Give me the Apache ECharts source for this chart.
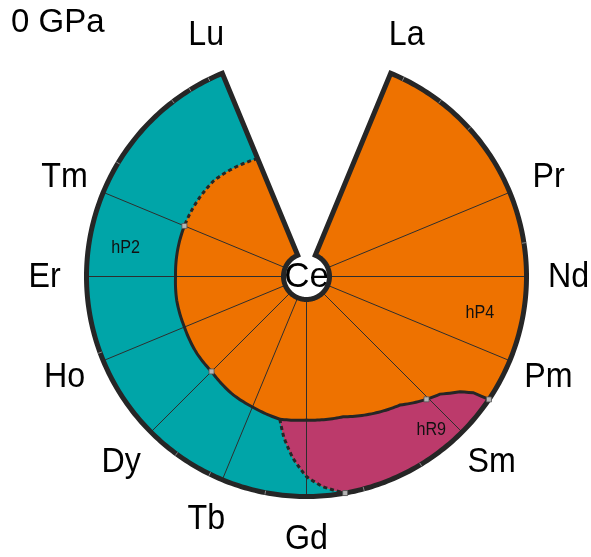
<!DOCTYPE html>
<html>
<head>
<meta charset="utf-8">
<script src="https://cdn.jsdelivr.net/npm/echarts@6/dist/echarts.min.js"></script>
<style>
  html, body { margin: 0; padding: 0; background: #ffffff; }
  #chart { width: 591px; height: 557px; }
</style>
</head>
<body>
<div id="chart"></div>
<script>
// Position along the lanthanide series sets the angle (La = 0 ... Lu = 14),
// the radius is the fraction of the partner element alloyed with Ce.
const elements = ['La', 'Ce', 'Pr', 'Nd', 'Pm', 'Sm', 'Eu', 'Gd', 'Tb', 'Dy', 'Ho', 'Er', 'Tm', 'Yb', 'Lu'];
const rimLabels = ['La', 'Pr', 'Nd', 'Pm', 'Sm', 'Gd', 'Tb', 'Dy', 'Ho', 'Er', 'Tm', 'Lu'];
const tieLines = ['Pr', 'Nd', 'Pm', 'Sm', 'Gd', 'Tb', 'Dy', 'Ho', 'Er', 'Tm'];
const centerLabel = 'Ce';
const pressureLabel = '0 GPa';

// Phase boundaries as [series position, solute fraction]
const hP2BoundaryDotted = [[14, 0.531], [13.04, 0.560], [12, 0.554]];
const hP2BoundarySolid = [[12, 0.554], [11, 0.548], [10.54, 0.553], [10, 0.554], [9.44, 0.563],
  [9, 0.565], [8.41, 0.590], [8, 0.600], [7.47, 0.620]];
const hR9BoundarySolid = [[7.47, 0.620], [7, 0.612], [6.35, 0.619], [5.4, 0.690], [5.03, 0.755],
  [4.84, 0.786], [4.64, 0.857], [4.55, 0.915], [4.51, 1]];
const hR9BoundaryDotted = [[7.47, 0.620], [7.36, 0.705], [7.19, 0.808], [7, 0.899], [6.8, 0.954], [6.55, 1]];
const boundaryMarks = [[12, 0.554], [9, 0.565], [5.03, 0.755], [4.51, 1], [6.55, 1]];
const rimTicks = [0.16, 0.66, 1.12, 2.61, 5.61, 6.33, 7.48, 8.16, 8.61, 10.1, 12.38, 13.34, 13.58, 13.83];

const phaseNames = ['hP4', 'hP2', 'hR9'];
const phaseColors = ['#ee7200', '#00a5a8', '#bc3a6b'];
const phaseLabelPos = [[3.53, 0.783], [11.4, 0.813], [5.26, 0.886]];

const first = 0, last = elements.length - 1;
const labelRadius = 1.213;
const ink = '#262626';
const font = '"Liberation Sans", Arial, Helvetica, sans-serif';

function renderDiagram(params, api) {
  const pt = (idx, x) => api.coord([x, idx]);
  // walk a boundary in polar space so segments follow the circular grid
  const trace = (pts) => {
    const out = [];
    for (let i = 0; i < pts.length - 1; i++) {
      const [a0, x0] = pts[i], [a1, x1] = pts[i + 1];
      const n = Math.max(1, Math.ceil(Math.abs(a1 - a0) / 0.04));
      for (let k = 0; k < n; k++) {
        const t = k / n;
        out.push(pt(a0 + (a1 - a0) * t, x0 + (x1 - x0) * t));
      }
    }
    const e = pts[pts.length - 1];
    out.push(pt(e[0], e[1]));
    return out;
  };
  const rev = (a) => a.slice().reverse();
  const hP2Edge = hP2BoundaryDotted.concat(hP2BoundarySolid.slice(1));
  const children = [];

  // hP4 fills the whole wedge first
  children.push({ type: 'polygon', shape: { points: trace([[first, 0], [first, 1], [last, 1], [last, 0], [first, 0]]) },
    style: { fill: phaseColors[0], stroke: 'none' } });
  // hP2 on the heavy side
  children.push({ type: 'polygon',
    shape: { points: trace(hP2Edge.concat(hR9BoundaryDotted.slice(1), [[last, 1]])) },
    style: { fill: phaseColors[1], stroke: 'none' } });
  // hR9 pocket
  children.push({ type: 'polygon',
    shape: { points: trace(hR9BoundarySolid.concat([hR9BoundaryDotted[hR9BoundaryDotted.length - 1]], rev(hR9BoundaryDotted).slice(1))) },
    style: { fill: phaseColors[2], stroke: 'none' } });

  // tie lines from Ce to each partner element
  tieLines.forEach((name) => {
    const i = elements.indexOf(name);
    children.push({ type: 'polyline', shape: { points: [pt(i, 0), pt(i, 1)] },
      style: { stroke: '#2e2e2e', lineWidth: 1, fill: 'none' } });
  });

  // phase boundaries
  children.push({ type: 'polyline', shape: { points: trace(hP2BoundarySolid) },
    style: { stroke: ink, lineWidth: 3, fill: 'none' } });
  children.push({ type: 'polyline', shape: { points: trace(hR9BoundarySolid) },
    style: { stroke: ink, lineWidth: 3, fill: 'none' } });
  children.push({ type: 'polyline', shape: { points: trace(hP2BoundaryDotted) },
    style: { stroke: ink, lineWidth: 3, fill: 'none', lineDash: [4, 3] } });
  children.push({ type: 'polyline', shape: { points: trace(hR9BoundaryDotted) },
    style: { stroke: ink, lineWidth: 3, fill: 'none', lineDash: [4, 3] } });

  // wedge outline
  children.push({ type: 'polygon', shape: { points: trace([[first, 0], [first, 1], [last, 1], [last, 0], [first, 0]]) },
    style: { fill: 'none', stroke: ink, lineWidth: 5, lineJoin: 'miter' } });

  // small ticks on the rim
  rimTicks.forEach((i) => {
    children.push({ type: 'polyline', shape: { points: [pt(i, 0.99), pt(i, 1.01)] },
      style: { stroke: '#8a8a8a', lineWidth: 1, fill: 'none' } });
  });

  // calculated points on the boundaries
  boundaryMarks.forEach(([i, x]) => {
    const p = pt(i, x);
    children.push({ type: 'rect', shape: { x: p[0] - 2.5, y: p[1] - 2.5, width: 5, height: 5 },
      style: { fill: '#b5b5b5', stroke: '#555', lineWidth: 0.8 } });
  });

  // element names round the rim
  rimLabels.forEach((name) => {
    const p = pt(elements.indexOf(name), labelRadius);
    children.push({ type: 'text', x: p[0], y: p[1] + 1, scaleX: 0.92,
      style: { text: name, fontSize: 35, fontFamily: font, fill: '#000', align: 'center', verticalAlign: 'middle' } });
  });

  // phase names
  phaseNames.forEach((name, k) => {
    const p = pt(phaseLabelPos[k][0], phaseLabelPos[k][1]);
    children.push({ type: 'text', x: p[0], y: p[1], scaleX: 0.85,
      style: { text: name, fontSize: 19, fontFamily: font, fill: '#111', align: 'center', verticalAlign: 'middle' } });
  });

  // Ce at the hub
  const c = pt(0, -0.2);
  const hub = api.coord([0, 0]);
  return { type: 'group', children: children };
}

const chart = echarts.init(document.getElementById('chart'));
chart.setOption({
  animation: false,
  polar: { center: [306.5, 276.5], radius: [23, 220] },
  angleAxis: { type: 'value', min: 0, max: 16, startAngle: 67.5, clockwise: true,
    axisLine: { show: false }, axisTick: { show: false }, axisLabel: { show: false }, splitLine: { show: false } },
  radiusAxis: { type: 'value', min: 0, max: 1,
    axisLine: { show: false }, axisTick: { show: false }, axisLabel: { show: false }, splitLine: { show: false } },
  graphic: [
    { type: 'text', left: 11, top: 6,
      style: { text: pressureLabel, fontSize: 33, fontFamily: font, fill: '#000' } },
    { type: 'text', x: 306.5, y: 277, scaleX: 1,
      style: { text: centerLabel, fontSize: 35, fontFamily: font, fill: '#000', align: 'center', verticalAlign: 'middle' } }
  ],
  series: [{
    type: 'custom',
    coordinateSystem: 'polar',
    clip: false,
    silent: true,
    renderItem: renderDiagram,
    data: [[0, 0]]
  }]
});
</script>
</body>
</html>
